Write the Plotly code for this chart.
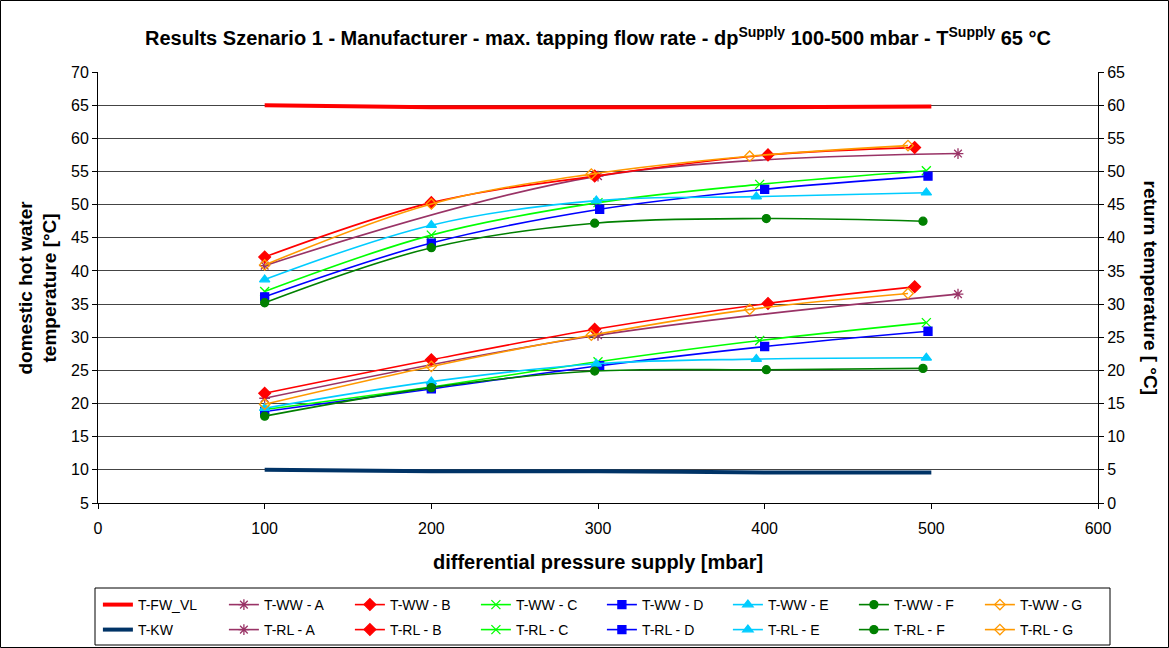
import plotly.graph_objects as go

# ---------------- data ----------------
fw_x = [100, 200, 300, 400, 500]
fw_vl = [65.0, 64.7, 64.7, 64.7, 64.8]
kw_x = [100, 200, 300, 400, 500]
kw = [10.0, 9.8, 9.8, 9.6, 9.6]

x_a = [100, 300, 516]
x_b = [100, 200, 298, 402, 490]
x_c = [100, 200, 300, 397, 497]
x_d = [100, 200, 301, 400, 498]
x_e = [100, 200, 299, 395, 497]
x_f = [100, 200, 298, 401, 495]
x_g = [100, 200, 296, 391, 486]

ww_a = [40.8, 54.3, 57.7]
ww_b = [42.1, 50.3, 54.3, 57.5, 58.6]
ww_c = [36.9, 45.4, 50.3, 53.05, 55.1]
ww_d = [36.1, 44.2, 49.3, 52.3, 54.3]
ww_e = [38.7, 46.9, 50.6, 51.2, 51.8]
ww_f = [35.2, 43.5, 47.2, 47.9, 47.5]
ww_g = [40.9, 50.1, 54.6, 57.3, 58.9]

rl_a = [15.8, 25.3, 31.5]
rl_b = [16.55, 21.6, 26.2, 30.1, 32.6]
rl_c = [14.1, 17.5, 21.3, 24.5, 27.2]
rl_d = [13.8, 17.2, 20.7, 23.6, 25.9]
rl_e = [14.3, 18.3, 21.0, 21.7, 21.9]
rl_f = [13.1, 17.4, 19.9, 20.1, 20.3]
rl_g = [14.9, 20.6, 25.3, 29.2, 31.6]

letters = ["A", "B", "C", "D", "E", "F", "G"]
xs = [x_a, x_b, x_c, x_d, x_e, x_f, x_g]
ww = [ww_a, ww_b, ww_c, ww_d, ww_e, ww_f, ww_g]
rl = [rl_a, rl_b, rl_c, rl_d, rl_e, rl_f, rl_g]

colors = ["#993366", "#FF0000", "#00FF00", "#0000FF", "#00CCFF", "#008000", "#FF9900"]
symbols = ["asterisk-open", "diamond", "x-thin-open", "square", "triangle-up", "circle", "diamond-open"]
msizes = [9, 9, 9, 8, 9, 8, 8]

FONT = "Liberation Sans, Arial, sans-serif"

fig = go.Figure()


def series(x, y, name, color, symbol, size, yaxis, legend):
    return go.Scatter(
        x=x, y=y, name=name, yaxis=yaxis, legend=legend,
        mode="lines+markers",
        line=dict(color=color, width=1.6, shape="spline"),
        marker=dict(symbol=symbol, size=size, color=color,
                    line=dict(color=color, width=1.3)),
    )


# row 1 of legend
fig.add_trace(go.Scatter(x=fw_x, y=fw_vl, name="T-FW_VL", mode="lines", legend="legend",
                         line=dict(color="#FF0000", width=4, shape="spline")))
for i, L in enumerate(letters):
    fig.add_trace(series(xs[i], ww[i], "T-WW - " + L, colors[i], symbols[i], msizes[i], "y", "legend"))
# row 2 of legend
fig.add_trace(go.Scatter(x=kw_x, y=kw, name="T-KW", mode="lines", legend="legend2",
                         line=dict(color="#003366", width=4, shape="spline")))
for i, L in enumerate(letters):
    fig.add_trace(series(xs[i], rl[i], "T-RL - " + L, colors[i], symbols[i], msizes[i], "y2", "legend2"))

PLOT_W, PLOT_H, ML, MT = 1000, 431, 98, 72


def px_x(px):
    return (px - ML) / PLOT_W


def px_y(py):
    return (MT + PLOT_H - py) / PLOT_H


legend_common = dict(
    orientation="h", xanchor="left", yanchor="middle",
    entrywidthmode="pixels", entrywidth=81,
    borderwidth=0, bgcolor="rgba(0,0,0,0)",
    font=dict(family=FONT, size=14),
    traceorder="normal",
)

fig.update_layout(
    width=1169, height=648,
    margin=dict(l=ML, r=1169 - ML - PLOT_W, t=MT, b=648 - MT - PLOT_H, autoexpand=False),
    paper_bgcolor="white", plot_bgcolor="white",
    font=dict(family=FONT, size=16, color="black"),
    title=dict(
        text="<b>Results Szenario 1 - Manufacturer - max. tapping flow rate - dp<sup>Supply</sup> 100-500 mbar - T<sup>Supply</sup> 65 °C</b>",
        x=0.5, xref="paper", xanchor="center",
        y=1 - 38 / 648, yanchor="middle",
        font=dict(family=FONT, size=20, color="black"),
    ),
    xaxis=dict(
        range=[0, 600], dtick=100, tick0=0,
        showgrid=False, zeroline=False,
        showline=True, linecolor="black", linewidth=1,
        ticks="outside", ticklen=5, tickcolor="black",
        tickfont=dict(size=16), ticklabelstandoff=6,
    ),
    yaxis=dict(
        range=[5, 70], dtick=5, tick0=5,
        showgrid=True, gridcolor="#444444", gridwidth=1,
        zeroline=False,
        showline=True, linecolor="black", linewidth=1,
        ticks="outside", ticklen=5, tickcolor="black",
        tickfont=dict(size=16),
    ),
    yaxis2=dict(
        range=[0, 65], dtick=5, tick0=0,
        overlaying="y", side="right",
        showgrid=False, zeroline=False,
        showline=True, linecolor="black", linewidth=1,
        ticks="outside", ticklen=5, tickcolor="black",
        tickfont=dict(size=16),
    ),
    legend=dict(legend_common, x=-0.0001, y=px_y(605)),
    legend2=dict(legend_common, x=-0.0001, y=px_y(630)),
    annotations=[
        dict(text="<b>domestic hot water<br>temperature [°C]</b>", textangle=-90,
             xref="paper", yref="paper", x=px_x(37), y=0.5,
             xanchor="center", yanchor="middle", showarrow=False,
             font=dict(family=FONT, size=19)),
        dict(text="<b>return temperature [ °C]</b>", textangle=90,
             xref="paper", yref="paper", x=px_x(1150), y=0.5,
             xanchor="center", yanchor="middle", showarrow=False,
             font=dict(family=FONT, size=19)),
        dict(text="<b>differential pressure supply [mbar]</b>",
             xref="paper", yref="paper", x=0.5, y=px_y(562),
             xanchor="center", yanchor="middle", showarrow=False,
             font=dict(family=FONT, size=20)),
    ],
    shapes=[
        # outer chart border
        dict(type="rect", xref="paper", yref="paper",
             x0=px_x(0.5), x1=px_x(1168.5), y0=px_y(647.5), y1=px_y(0.5),
             line=dict(color="black", width=1), fillcolor="rgba(0,0,0,0)", layer="below"),
        # legend box
        dict(type="rect", xref="paper", yref="paper",
             x0=px_x(95), x1=px_x(1110), y0=px_y(645), y1=px_y(588),
             line=dict(color="black", width=1), fillcolor="rgba(0,0,0,0)", layer="below"),
    ],
)

fig.write_html("out.html", config={"displayModeBar": False},
               post_script="document.body.style.margin='0';")
